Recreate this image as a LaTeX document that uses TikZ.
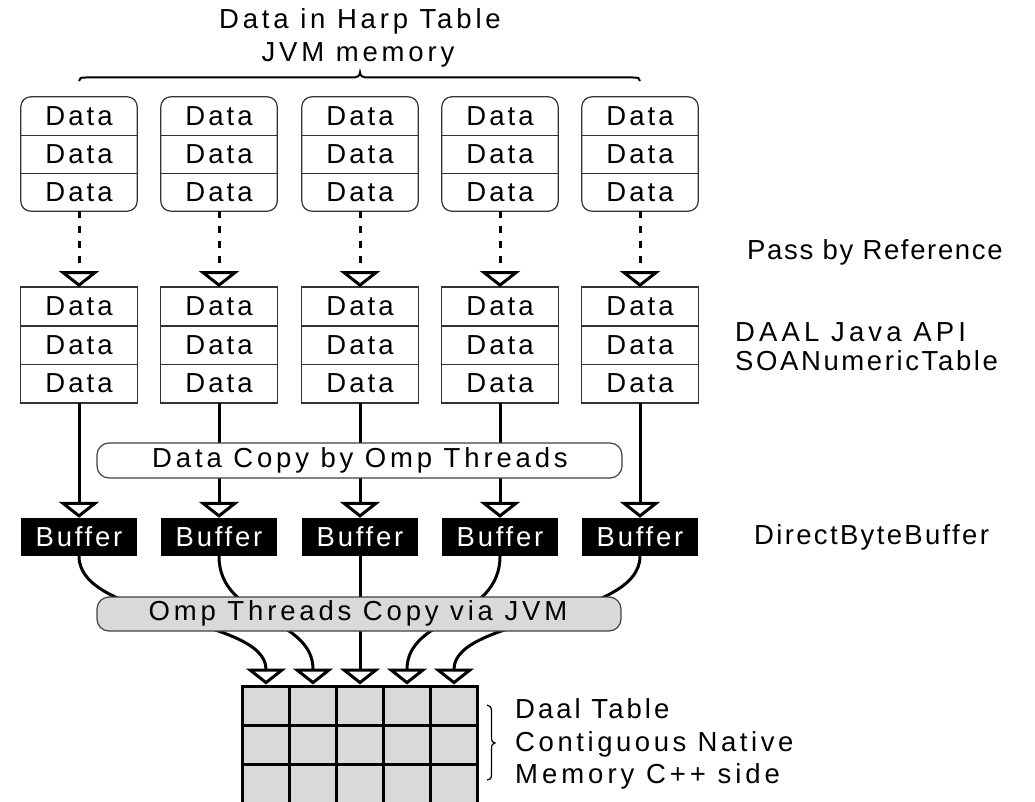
\documentclass[tikz,border=0pt]{standalone}
\usepackage{fontspec}
\setmainfont{Liberation Sans}[LetterSpace=11]
\usetikzlibrary{arrows.meta}
\newcommand{\ls}[1]{\addfontfeature{LetterSpace=#1}}
\begin{document}
\begin{tikzpicture}[x=1pt,y=-1pt,
  every node/.style={font=\fontsize{27.5}{32}\selectfont},
  topcell/.style={minimum width=116pt, minimum height=38pt, inner sep=0pt},
  midcell/.style={minimum width=116pt, minimum height=38.5pt, inner sep=0pt},
  buf/.style={minimum width=116pt, minimum height=38pt, inner sep=0pt, fill=black, text=white},
  gcell/.style={draw=black, line width=3pt, fill=gray!30, minimum width=47pt, minimum height=39.3pt, inner sep=0pt},
  thinline/.style={draw=black!80, line width=1.2pt},
  conn/.style={line width=3pt, -{Triangle[open, width=40pt, length=16pt]}},
  dconn/.style={conn, dash pattern=on 6.5pt off 8.5pt},
  lbl/.style={anchor=base west, inner sep=0pt},
  ctr/.style={anchor=base, inner sep=0pt},
  bigbox/.style={draw=black!75, line width=1.2pt, rounded corners=12pt, inner sep=0pt},
]
\useasboundingbox (0,0) rectangle (1035,802);

% title and brace
\node[ctr] (ti1) at (360,28.5) {\ls{14}Data in Harp Table};
\node[ctr] (ti2) at (358,61.5) {\ls{14}JVM memory};
\draw[line width=2pt] (79,81) .. controls (79,78) and (81,77.5) .. (86,77.5) -- (353,77.5)
  .. controls (357,77.5) and (360,76) .. (360,72.5)
  .. controls (360,76) and (363,77.5) .. (367,77.5) -- (633,77.5)
  .. controls (638,77.5) and (640,78) .. (640,81);

% tables and buffers
\foreach \c/\x in {1/79,2/219,3/360,4/500,5/640}{
  \foreach \r/\y in {1/116,2/154,3/192}{
    \node[topcell] (t\c\r) at (\x,\y) {Data};
  }
  \draw[thinline, rounded corners=10pt] (t\c1.north west) rectangle (t\c3.south east);
  \draw[thinline] (t\c1.south west) -- (t\c1.south east);
  \draw[thinline] (t\c2.south west) -- (t\c2.south east);
  \foreach \r/\y in {1/306.5,2/345,3/383.5}{
    \node[midcell] (m\c\r) at (\x,\y) {Data};
  }
  \draw[thinline] (m\c1.north west) rectangle (m\c3.south east);
  \draw[thinline] (m\c1.south west) -- (m\c1.south east);
  \draw[thinline] (m\c2.south west) -- (m\c2.south east);
  \node[buf] (b\c) at (\x,537) {\ls{10}Buffer};
  \draw[dconn] (t\c3.south) -- (m\c1.north);
  \draw[conn] (m\c3.south) -- (b\c.north);
}

% Data copy box
\node[bigbox, fill=white, minimum width=525pt, minimum height=35pt] (cp) at (359.5,460.5) {};
\node[ctr] (cpt) at (360,467) {\ls{14}Data Copy by Omp Threads};

% grid
\foreach \gc/\gx in {1/266,2/313,3/360,4/407,5/454}{
  \foreach \gr/\gy in {1/705.65,2/744.95,3/784.25}{
    \node[gcell] (g\gc\gr) at (\gx,\gy) {};
  }
}

% curved connectors buffer -> grid
\draw[conn] (b1.south) .. controls +(0,64) and +(0,-68) .. (g11.north);
\draw[conn] (b2.south) .. controls +(0,64) and +(0,-68) .. (g21.north);
\draw[conn] (b3.south) -- (g31.north);
\draw[conn] (b4.south) .. controls +(0,64) and +(0,-68) .. (g41.north);
\draw[conn] (b5.south) .. controls +(0,64) and +(0,-68) .. (g51.north);

% Omp box
\node[bigbox, fill=gray!30, minimum width=524pt, minimum height=34pt] (omp) at (359,614) {};
\node[ctr] (ompt) at (358,620) {\ls{14}Omp Threads Copy via JVM};

% grid brace
\draw[line width=1.2pt] (487,705) .. controls (490,705) and (491.5,707) .. (491.5,712) -- (491.5,737)
  .. controls (491.5,741) and (492.5,743) .. (495,743)
  .. controls (492.5,743) and (491.5,745) .. (491.5,749) -- (491.5,774)
  .. controls (491.5,779) and (490,780) .. (487,780);

% right labels
\node[lbl] (pbr) at (747,259.3) {\ls{6}Pass by Reference};
\node[lbl] (api1) at (735,341.7) {\ls{15}DAAL Java API};
\node[lbl] (api2) at (735,370.7) {\ls{9.5}SOANumericTable};
\node[lbl] (dbb) at (754,544.5) {\ls{8.5}DirectByteBuffer};
\node[lbl] (dt1) at (515,718) {Daal Table};
\node[lbl] (dt2) at (515,751.5) {\ls{13}Contiguous Native};
\node[lbl] (dt3) at (515,783.5) {\ls{14.5}Memory C++ side};
\end{tikzpicture}
\end{document}
